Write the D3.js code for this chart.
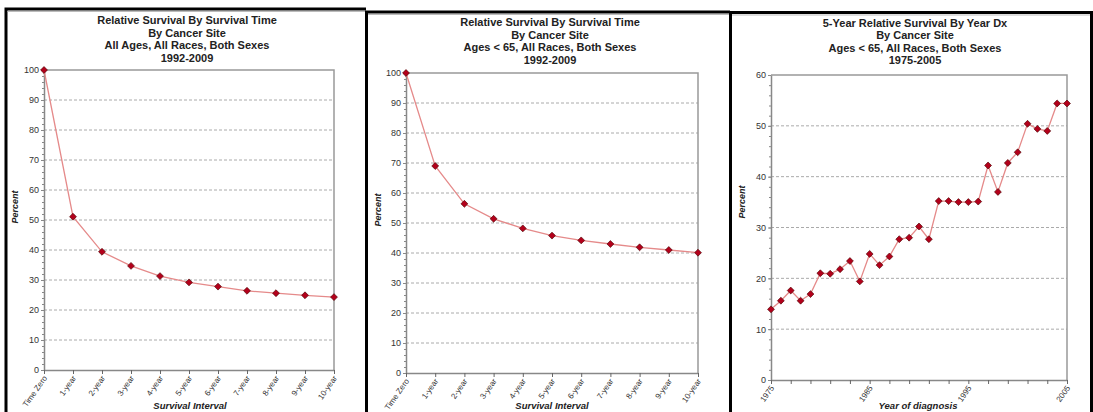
<!DOCTYPE html>
<html>
<head>
<meta charset="utf-8">
<script src="https://cdn.jsdelivr.net/npm/d3@7"></script>
<style>
body { margin: 0; background: #fff; }
text { font-family: "Liberation Sans", Arial, sans-serif; }
</style>
</head>
<body>
<svg id="chart" width="1093" height="412"></svg>
<script>
// data
const intervals = ["Time Zero", "1-year", "2-year", "3-year", "4-year", "5-year", "6-year", "7-year", "8-year", "9-year", "10-year"];
const allAgesSurvival = [100, 51.1, 39.4, 34.7, 31.3, 29.2, 27.8, 26.4, 25.6, 24.9, 24.3];
const under65Survival = [100, 69.0, 56.4, 51.4, 48.2, 45.8, 44.2, 43.0, 41.9, 41.0, 40.1];
const yearsDx = [1975, 1976, 1977, 1978, 1979, 1980, 1981, 1982, 1983, 1984, 1985, 1986, 1987, 1988, 1989, 1990,
  1991, 1992, 1993, 1994, 1995, 1996, 1997, 1998, 1999, 2000, 2001, 2002, 2003, 2004, 2005];
const fiveYearSurvival = [13.9, 15.6, 17.6, 15.6, 16.9, 21.0, 20.9, 21.8, 23.4, 19.4, 24.8, 22.6, 24.3, 27.7, 28.0, 30.2,
  27.7, 35.2, 35.2, 35.0, 35.0, 35.1, 42.2, 37.0, 42.7, 44.8, 50.4, 49.4, 49.0, 54.4, 54.4];
const percentTicks = [0, 10, 20, 30, 40, 50, 60, 70, 80, 90, 100];
const percentTicks60 = [0, 10, 20, 30, 40, 50, 60];
const yearLabels = [1975, 1985, 1995, 2005];
const title1 = ["Relative Survival By Survival Time", "By Cancer Site", "All Ages, All Races, Both Sexes", "1992-2009"];
const title2 = ["Relative Survival By Survival Time", "By Cancer Site", "Ages < 65, All Races, Both Sexes", "1992-2009"];
const title3 = ["5-Year Relative Survival By Year Dx", "By Cancer Site", "Ages < 65, All Races, Both Sexes", "1975-2005"];

const svg = d3.select("#chart");

function drawPanel(p) {
  const g = svg.append("g");
  const x = p.x, y = p.y;
  const [l, r] = x.range();
  const [b, t] = y.range();

  // title
  g.append("text").attr("text-anchor", "middle").attr("font-size", 11).attr("font-weight", "bold").attr("fill", "#222")
    .selectAll("tspan").data(p.title).join("tspan")
    .attr("x", p.titleX).attr("y", (d, i) => p.titleY + i * 12.6).text(d => d);

  // dashed grid
  g.selectAll(".grid").data(p.yTicks.filter(v => v > y.domain()[0] && v < y.domain()[1])).join("line")
    .attr("x1", l).attr("x2", r).attr("y1", d => y(d)).attr("y2", d => y(d))
    .attr("stroke", "#aaa").attr("stroke-width", 1).attr("stroke-dasharray", "3,2");

  // frame top and right
  g.append("path").attr("d", `M${l},${t}H${r}V${b}`).attr("fill", "none").attr("stroke", "#999").attr("stroke-width", 1.5);

  // minor ticks on y
  g.append("g").attr("transform", `translate(${l},0)`)
    .call(d3.axisLeft(y).tickValues(d3.range(y.domain()[0], y.domain()[1] + 1, 2)).tickSize(2).tickFormat(""))
    .call(a => a.select(".domain").remove())
    .call(a => a.selectAll("line").attr("stroke", "#888"));

  // y axis
  g.append("g").attr("transform", `translate(${l},0)`)
    .call(d3.axisLeft(y).tickValues(p.yTicks).tickSize(3).tickPadding(2).tickSizeOuter(0))
    .call(a => a.select(".domain").attr("stroke", "#888").attr("stroke-width", 1.5))
    .call(a => a.selectAll("line").attr("stroke", "#888"))
    .call(a => a.selectAll("text").attr("font-size", 9).attr("fill", "#333").attr("font-family", "Liberation Sans, Arial, sans-serif"));

  // x axis
  const xa = g.append("g").attr("transform", `translate(0,${b})`)
    .call(p.xAxis.tickSize(4).tickSizeOuter(0))
    .call(a => a.select(".domain").attr("stroke", "#888").attr("stroke-width", 1.5))
    .call(a => a.selectAll("line").attr("stroke", "#666"));
  xa.selectAll("text").attr("font-size", 8).attr("fill", "#333").attr("font-family", "Liberation Sans, Arial, sans-serif")
    .attr("text-anchor", "end").attr("dy", 0).attr("y", 0)
    .attr("transform", "translate(3,8) rotate(-55)");

  // axis titles
  g.append("text").attr("transform", `translate(${p.yTitleX},${p.yTitleY}) rotate(-90)`)
    .attr("text-anchor", "middle").attr("font-size", 9).attr("font-weight", "bold").attr("font-style", "italic")
    .attr("fill", "#222").text("Percent");
  g.append("text").attr("x", p.xTitleX).attr("y", 409).attr("text-anchor", "middle")
    .attr("font-size", 9.5).attr("font-weight", "bold").attr("font-style", "italic").attr("fill", "#222").text(p.xTitle);

  // line and markers
  g.append("path").datum(p.data).attr("fill", "none").attr("stroke", "#e58a8a").attr("stroke-width", 1.3)
    .attr("d", d3.line().x(d => x(d[0])).y(d => y(d[1])));
  g.selectAll(".pt").data(p.data).join("path")
    .attr("transform", d => `translate(${x(d[0])},${y(d[1])}) rotate(45)`)
    .attr("d", d3.symbol(d3.symbolSquare, 24))
    .attr("fill", "#b3001b").attr("stroke", "#4a0000").attr("stroke-width", 0.6);
}

// panel borders
function border(x0, x1, top) {
  svg.append("path").attr("d", `M${x0 + 1.5},412V${top}H${x1}`).attr("fill", "none").attr("stroke", "#000").attr("stroke-width", 3);
  svg.append("line").attr("x1", x0 + 3).attr("x2", x1).attr("y1", top + 2.5).attr("y2", top + 2.5).attr("stroke", "#bbb").attr("stroke-width", 1);
}
border(4.5, 366, 9);
border(365, 730, 12);
border(729, 1093, 12.5);
svg.append("line").attr("x1", 1091.5).attr("x2", 1091.5).attr("y1", 12).attr("y2", 412).attr("stroke", "#000").attr("stroke-width", 3);

const x1 = d3.scalePoint().domain(intervals).range([44, 334]);
drawPanel({
  x: x1, y: d3.scaleLinear().domain([0, 100]).range([370, 70]),
  yTicks: percentTicks, xAxis: d3.axisBottom(x1),
  data: intervals.map((c, i) => [c, allAgesSurvival[i]]),
  title: title1, titleX: 187, titleY: 24,
  yTitleX: 18, yTitleY: 207, xTitle: "Survival Interval", xTitleX: 190
});

const x2 = d3.scalePoint().domain(intervals).range([406, 698]);
drawPanel({
  x: x2, y: d3.scaleLinear().domain([0, 100]).range([373, 73]),
  yTicks: percentTicks, xAxis: d3.axisBottom(x2),
  data: intervals.map((c, i) => [c, under65Survival[i]]),
  title: title2, titleX: 550, titleY: 26,
  yTitleX: 381, yTitleY: 210, xTitle: "Survival Interval", xTitleX: 552
});

const x3 = d3.scaleLinear().domain([1975, 2005]).range([771, 1067]);
drawPanel({
  x: x3, y: d3.scaleLinear().domain([0, 60]).range([380, 75]),
  yTicks: percentTicks60,
  xAxis: d3.axisBottom(x3).tickValues(d3.range(1975, 2006, 2)).tickFormat(d => yearLabels.includes(d) ? d : ""),
  data: yearsDx.map((yr, i) => [yr, fiveYearSurvival[i]]),
  title: title3, titleX: 915, titleY: 26.5,
  yTitleX: 745, yTitleY: 202, xTitle: "Year of diagnosis", xTitleX: 918
});
</script>
</body>
</html>
